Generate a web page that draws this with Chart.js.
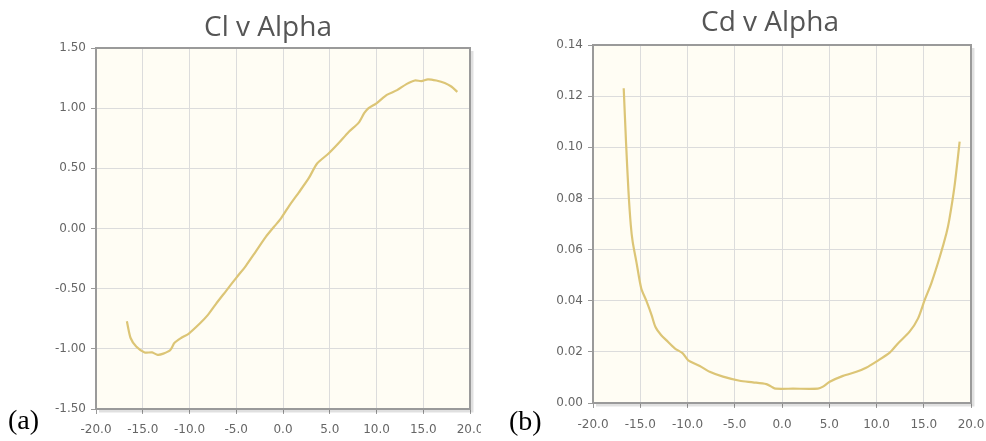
<!DOCTYPE html>
<html>
<head>
<meta charset="utf-8">
<script src="https://cdn.jsdelivr.net/npm/chart.js@4"></script>
<style>
  body { margin: 0; background: #fff; width: 986px; height: 441px; position: relative; overflow: hidden; }
  .box { position: absolute; top: 0; height: 441px; overflow: hidden; }
  .tag { position: absolute; font-family: "Liberation Serif", serif; font-size: 28px; color: #000; }
</style>
</head>
<body>
<div class="box" style="left:0;width:481px"><div style="width:536px;height:441px"><canvas id="cl"></canvas></div></div>
<div class="box" style="left:493px;width:493px"><div style="width:554px;height:441px"><canvas id="cd"></canvas></div></div>
<div class="tag" style="left:8px;top:404px">(a)</div>
<div class="tag" style="left:509px;top:405px">(b)</div>
<script>
// lift coefficient vs angle of attack
const clAlpha = [-16.7, -16.3, -15.7, -14.8, -14.0, -13.4, -12.8, -12.05, -11.6, -10.9, -10.1, -8.9, -8.05, -7.2, -6.1, -5.0, -3.97, -2.9, -1.84, -0.96, -0.3, 0.64, 1.7, 2.77, 3.65, 4.9, 5.96, 7.0, 8.1, 8.7, 9.15, 10.0, 11.1, 12.2, 13.2, 14.1, 14.8, 15.5, 16.4, 17.3, 18.0, 18.65];
const clValues = [-0.77, -0.91, -0.98, -1.03, -1.03, -1.05, -1.04, -1.01, -0.95, -0.91, -0.875, -0.79, -0.72, -0.63, -0.52, -0.41, -0.31, -0.19, -0.07, 0.014, 0.075, 0.186, 0.30, 0.42, 0.54, 0.625, 0.71, 0.80, 0.88, 0.96, 1.00, 1.04, 1.11, 1.15, 1.20, 1.23, 1.225, 1.24, 1.23, 1.21, 1.18, 1.135];

// drag coefficient vs angle of attack
const cdAlpha = [-16.75, -16.5, -16.25, -16.0, -15.8, -15.4, -14.9, -14.36, -13.8, -13.4, -12.8, -12.25, -11.35, -10.5, -9.95, -8.7, -7.65, -6.24, -4.48, -3.07, -1.66, -1.13, -0.67, 1.16, 3.8, 4.34, 5.05, 6.46, 7.87, 8.9, 9.98, 11.4, 12.27, 13.5, 14.4, 15.1, 15.8, 16.7, 17.4, 17.7, 18.25, 18.8];
const cdValues = [0.1231, 0.1016, 0.083, 0.0695, 0.063, 0.055, 0.0449, 0.040, 0.0344, 0.0298, 0.0266, 0.0246, 0.0214, 0.0194, 0.0168, 0.0145, 0.0122, 0.0103, 0.0087, 0.0081, 0.0074, 0.0064, 0.0056, 0.0056, 0.0056, 0.0064, 0.0083, 0.0106, 0.0122, 0.0138, 0.0162, 0.0197, 0.0233, 0.0279, 0.0331, 0.0403, 0.0468, 0.0572, 0.0664, 0.0716, 0.0846, 0.1022];

const xTicks = { min: -20, max: 20, step: 5 };
const clTicks = { min: -1.5, max: 1.5, step: 0.5 };
const cdTicks = { min: 0, max: 0.14, step: 0.02 };

const frame = {
  id: "frame",
  beforeDraw(chart) {
    const a = chart.chartArea, ctx = chart.ctx;
    ctx.save();
    ctx.fillStyle = "#fffdf4";
    ctx.fillRect(a.left, a.top, a.right - a.left, a.bottom - a.top);
    ctx.restore();
  },
  afterDraw(chart, args, opts) {
    const a = chart.chartArea, ctx = chart.ctx;
    ctx.save();
    // soft shadow on right and bottom
    ctx.strokeStyle = "rgba(0,0,0,0.12)";
    ctx.lineWidth = 3;
    ctx.beginPath();
    ctx.moveTo(a.right + 2, a.top + 3);
    ctx.lineTo(a.right + 2, a.bottom + 2);
    ctx.lineTo(a.left + 3, a.bottom + 2);
    ctx.stroke();
    ctx.strokeStyle = "#9a9a9a";
    ctx.lineWidth = 2;
    ctx.strokeRect(a.left, a.top, a.right - a.left, a.bottom - a.top);
    ctx.fillStyle = "#555";
    ctx.font = "28px 'Open Sans'";
    ctx.textAlign = "center";
    ctx.textBaseline = "middle";
    ctx.fillText(opts.text, chart.width / 2, opts.y);
    ctx.restore();
  }
};

function makeChart(id, xs, ys, yt, title, opt) {
  const points = xs.map((x, i) => ({ x: x, y: ys[i] }));
  return new Chart(document.getElementById(id), {
    type: "line",
    data: {
      datasets: [{
        data: points,
        borderColor: "#dcc576",
        borderWidth: 2.2,
        pointRadius: 0,
        tension: 0.25,
        fill: false,
      }],
    },
    options: {
      responsive: true,
      maintainAspectRatio: false,
      animation: false,
      layout: { padding: { left: 0, right: opt.right, top: opt.top, bottom: 0 } },
      plugins: {
        legend: { display: false },
        tooltip: { enabled: false },
        frame: { text: title, y: opt.titleY },
      },
      scales: {
        x: {
          type: "linear",
          min: xTicks.min,
          max: xTicks.max,
          afterFit: (s) => { s.height = opt.xh; },
          ticks: {
            stepSize: xTicks.step,
            color: "#666",
            font: { family: "DejaVu Sans", size: 12 },
            padding: opt.xpad,
            maxRotation: 0,
            callback: (v) => v.toFixed(1),
          },
          grid: { color: "#dcdcdc", tickColor: "#9a9a9a", tickLength: 5 },
          border: { display: false },
        },
        y: {
          min: yt.min,
          max: yt.max,
          afterFit: (s) => { s.width = opt.yw; },
          ticks: {
            stepSize: yt.step,
            color: "#666",
            font: { family: "DejaVu Sans", size: 12 },
            padding: 5,
            callback: (v) => v.toFixed(2),
          },
          grid: { color: "#dcdcdc", tickColor: "#9a9a9a", tickLength: 5 },
          border: { display: false },
        },
      },
    },
    plugins: [frame],
  });
}

makeChart("cl", clAlpha, clValues, clTicks, "Cl v Alpha", { right: 66, top: 48, xh: 32, yw: 96, titleY: 28, xpad: 9 });
makeChart("cd", cdAlpha, cdValues, cdTicks, "Cd v Alpha", { right: 76, top: 45, xh: 38, yw: 100, titleY: 23, xpad: 10 });
</script>
</body>
</html>
